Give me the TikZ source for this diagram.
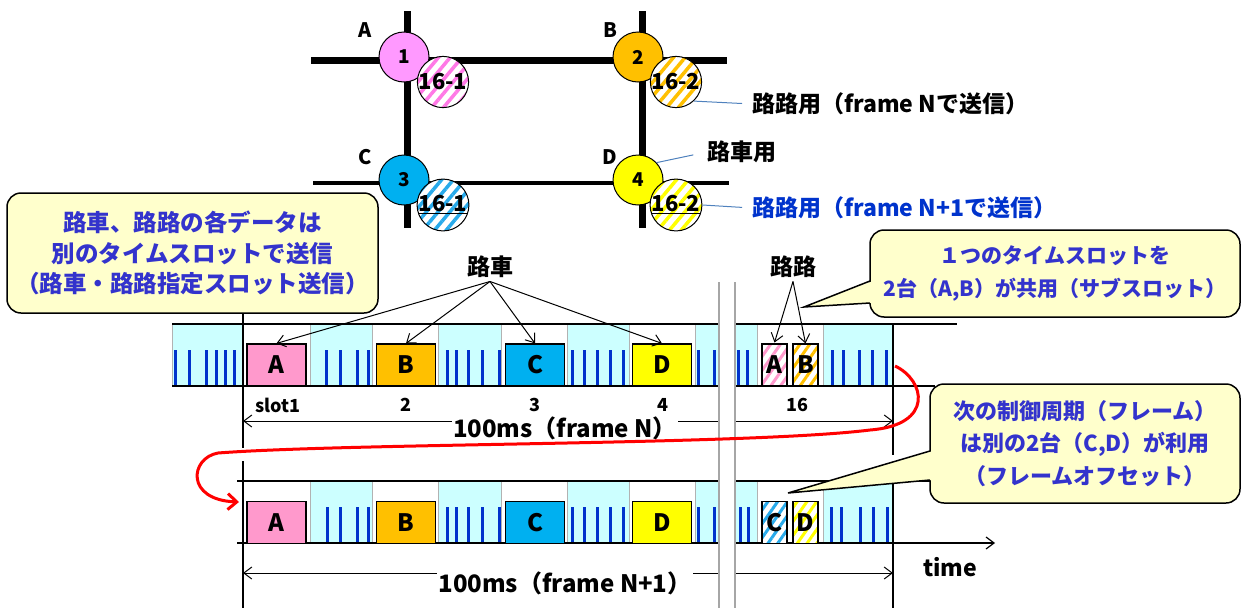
\documentclass[tikz,border=0pt]{standalone}
\usepackage{fontspec}
\setmainfont{Noto Sans CJK JP}
\usepackage{tikz}
\usetikzlibrary{arrows.meta, patterns.meta}

\definecolor{violetA}{RGB}{255,153,255}
\definecolor{pinkA}{RGB}{255,153,204}
\definecolor{hatchpink}{RGB}{255,120,230}
\definecolor{orangeB}{RGB}{255,192,0}
\definecolor{blueC}{RGB}{0,176,240}
\definecolor{hatchblue}{RGB}{40,170,235}
\definecolor{yellowD}{RGB}{255,255,0}
\definecolor{cyanbg}{RGB}{204,255,255}
\definecolor{tickblue}{RGB}{0,51,204}
\definecolor{callfill}{RGB}{255,255,204}
\definecolor{callblue}{RGB}{51,51,204}
\definecolor{labelblue}{RGB}{0,51,204}
\definecolor{leaderblue}{RGB}{79,129,189}

\newcommand{\fsz}[2]{\fontsize{#1}{#2}\selectfont\bfseries}

\begin{document}
\begin{tikzpicture}[
    x=1pt, y=-1pt,
    road/.style={line width=7pt},
    junction/.style={circle, draw, line width=1pt, minimum size=50pt, inner sep=0pt, font=\fsz{19}{19}},
    hatchdisc/.style={circle, draw, line width=1pt, minimum size=50pt, inner sep=0pt, preaction={fill=white}, pattern={Lines[angle=50, distance=9pt, line width=3.5pt]}, pattern color=#1, font=\fsz{22}{22}},
    corner/.style={font=\fsz{20}{20}},
    leader/.style={draw=leaderblue, line width=1pt},
    note/.style={anchor=west, inner sep=0pt, font=\fsz{23}{23}},
    slotbg/.style={fill=cyanbg, draw=gray!60, line width=0.8pt},
    slotfree/.style={draw=gray!60, line width=0.8pt},
    tick/.style={draw=tickblue, line width=3pt},
    vbox/.style={rectangle, draw, line width=1.2pt, minimum width=59pt, minimum height=42pt, inner sep=0pt, font=\fsz{24}{24}},
    subbox/.style={rectangle, draw, line width=1.2pt, minimum width=25pt, minimum height=42pt, inner sep=0pt, preaction={fill=white}, pattern={Lines[angle=55, distance=8pt, line width=3pt]}, pattern color=#1, font=\fsz{24}{24}},
    slotlbl/.style={font=\fsz{18}{18}},
    pointer/.style={-{Straight Barb[length=8pt, width=12pt]}, line width=1pt},
    dim/.style={{Straight Barb[length=8pt, width=12pt]}-{Straight Barb[length=8pt, width=12pt]}, line width=1pt},
    frameline/.style={line width=1.2pt},
    gapline/.style={draw=gray!70, line width=1.5pt},
    callout/.style={rectangle, draw, line width=1.5pt, rounded corners=14pt, fill=callfill, align=center, text=callblue}
]
\useasboundingbox (0,0) rectangle (1243,608);

% Road map
\draw[road] (311,60) -- (727,60);
\draw[line width=4pt] (313,183) -- (729,183);
\draw[road] (407,11) -- (407,228);
\draw[road] (642,11) -- (642,228);

\node[junction, fill=violetA] (j1) at (404,57) {1};
\node[junction, fill=orangeB] (j2) at (638,57) {2};
\node[junction, fill=blueC] (j3) at (404,180) {3};
\node[junction, fill=yellowD] (j4) at (638,180) {4};
\node[hatchdisc=hatchpink] (h1) at (443,82) {16-1};
\node[hatchdisc=orangeB] (h2) at (676,82) {16-2};
\node[hatchdisc=hatchblue] (h3) at (443,205) {\underline{16-1}};
\node[hatchdisc=yellowD] (h4) at (676,205) {\underline{16-2}};

\node[corner] (cA) at (365,30) {A};
\node[corner] (cB) at (610,30) {B};
\node[corner] (cC) at (365,157) {C};
\node[corner] (cD) at (610,157) {D};

\node[note] (noteN) at (752,104) {路路用（frame Nで送信）};
\node[note] (noteRV) at (707,152) {路車用};
\node[note, text=labelblue] (noteN1) at (752,208) {路路用（frame N+1で送信）};
\draw[leader, shorten >=10pt] (h2.-47) -- (noteN.west);
\draw[leader, shorten >=14pt] (j4.43) -- (noteRV.west);
\draw[leader, shorten >=10pt] (h4.east) -- (noteN1.west);

% Frame N
\foreach \xa/\xb in {172/243, 310/372, 438/501, 567/629, 695/719, 735/757, 823/893}
  \filldraw[slotbg] (\xa,324) rectangle (\xb,386);
\foreach \xa/\xb in {243/310, 372/438, 501/567, 629/695, 757/823}
  \draw[slotfree] (\xa,324) rectangle (\xb,386);
\foreach \x in {175,189,206,216,225,234, 326,340,357,368, 447,456,468,482,499, 572,584,597,610,623, 698,714, 738,747, 832,843,859,872,886}
  \draw[tick] (\x,350) -- (\x,386);
\draw[frameline] (172,324) -- (957,324);
\draw[frameline] (172,386) -- (935,386);

% Frame N+1
\foreach \xa/\xb in {310/372, 438/501, 567/629, 695/719, 735/757, 823/893}
  \filldraw[slotbg] (\xa,481) rectangle (\xb,543);
\foreach \xa/\xb in {243/310, 372/438, 501/567, 629/695, 757/823}
  \draw[slotfree] (\xa,481) rectangle (\xb,543);
\foreach \x in {327,340,357,368, 447,456,468,482,499, 572,584,597,610,623, 698,714, 740,748, 831,841,860,873,887}
  \draw[tick] (\x,507) -- (\x,543);
\draw[frameline] (237,481) -- (935,481);
\draw[frameline, -{Straight Barb[length=8pt, width=12pt]}] (237,543) -- (995,543);
\node[font=\fsz{23}{23}] (time) at (950,567) {time};

% Vehicle slots
\foreach \name/\col/\xc in {A/pinkA/276.5, B/orangeB/406, C/blueC/535, D/yellowD/662} {
  \node[vbox, fill=\col] (box\name1) at (\xc,365) {\name};
  \node[vbox, fill=\col] (box\name2) at (\xc,522.5) {\name};
}
\node[subbox=pinkA] (subA1) at (774.5,365) {A};
\node[subbox=orangeB] (subB1) at (805.5,365) {B};
\node[subbox=hatchblue] (subC2) at (774.5,522.5) {C};
\node[subbox=yellowD] (subD2) at (805.5,522.5) {D};

\node[slotlbl] (sl1) at (278,405) {slot1};
\node[slotlbl] (sl2) at (406,405) {2};
\node[slotlbl] (sl3) at (535,405) {3};
\node[slotlbl] (sl4) at (663,405) {4};
\node[slotlbl] (sl16) at (797,405) {16};

% Frame borders and durations
\draw[frameline] (243,313) -- (243,448);
\draw[frameline] (243,461) -- (243,608);
\draw[frameline] (893,324) -- (893,455);
\draw[frameline] (893,481) -- (893,608);

\coordinate (fN0) at (243,421);
\coordinate (fN1) at (893,421);
\coordinate (fM0) at (243,573);
\coordinate (fM1) at (893,573);
\draw[dim] (fN0) -- (fN1);
\draw[dim] (fM0) -- (fM1);
\node[fill=white, inner sep=1pt, font=\fsz{24}{24}] (durN) at (565,428) {100ms（frame N）};
\node[fill=white, inner sep=1pt, font=\fsz{24}{24}] (durN1) at (565,583) {100ms（frame N+1）};

% Omitted slots
\fill[white] (719,282) rectangle (735,608);
\draw[gapline] (719,282) -- (719,608);
\draw[gapline] (735,282) -- (735,608);

% Labels with arrows
\node[font=\fsz{23}{23}] (rosha) at (490,267) {路車};
\node[font=\fsz{23}{23}] (roro) at (793,267) {路路};
\foreach \b in {boxA1, boxB1, boxC1, boxD1}
  \draw[pointer] (rosha.south) -- (\b.north);
\draw[pointer] (roro.south) -- (subA1.north);
\draw[pointer] (roro.south) -- (subB1.north);

% Next frame
\coordinate (endN) at (895,366);
\coordinate (startN1) at (239,502);
\draw[red, line width=3pt, -{Straight Barb[length=9pt, width=16pt]}] (endN) .. controls (925,380) and (935,425) .. (870,430)
  .. controls (750,445) and (350,443) .. (218,453) .. controls (190,458) and (185,500) .. (startN1);

% Callouts
\node[callout, minimum width=371pt, minimum height=120pt, font=\fsz{23.5}{30.5}] (noteSlots) at (192.5,253) {路車、路路の各データは\\別のタイムスロットで送信\\（路車・路路指定スロット送信）};

\node[callout, minimum width=370pt, minimum height=87pt, font=\fsz{21}{33}] (noteShare) at (1055,273.5) {１つのタイムスロットを\\2台（A,B）が共用（サブスロット）};
\fill[callfill] (804,307) -- (873,281) -- (873,303) -- cycle;
\draw[line width=1.5pt] (870,281) -- (804,307) -- (870,303);

\node[callout, minimum width=310pt, minimum height=119pt, font=\fsz{22}{32.5}] (noteOffset) at (1085,443.5) {次の制御周期（フレーム）\\は別の2台（C,D）が利用\\（フレームオフセット）};
\fill[callfill] (788,493) -- (933,451) -- (933,480) -- cycle;
\draw[line width=1.5pt] (930,451) -- (788,493) -- (930,480);

\end{tikzpicture}
\end{document}
